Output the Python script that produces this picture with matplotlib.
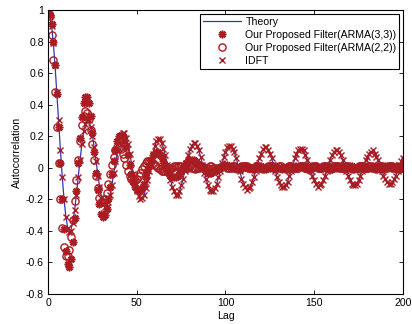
import numpy as np
import matplotlib
matplotlib.use("Agg")
import matplotlib.pyplot as plt

plt.rcParams["font.family"] = ["Liberation Sans", "DejaVu Sans"]

# lag axis
lags = np.arange(0, 201)

# theoretical autocorrelation (blue line)
theory = [
    1.000, 0.976, 0.904, 0.790, 0.643, 0.472, 0.291, 0.112, -0.054, -0.195,
    -0.304, -0.373, -0.401, -0.390, -0.343, -0.271, -0.170, -0.063, 0.044, 0.140,
    0.220, 0.273, 0.299, 0.295, 0.261, 0.205, 0.131, 0.048, -0.039, -0.117,
    -0.181, -0.228, -0.248, -0.245, -0.218, -0.170, -0.108, -0.039, 0.033, 0.103,
    0.159, 0.198, 0.217, 0.214, 0.191, 0.150, 0.095, 0.032, -0.032, -0.092,
    -0.142, -0.178, -0.195, -0.193, -0.173, -0.136, -0.086, -0.029, 0.029, 0.084,
    0.130, 0.162, 0.179, 0.177, 0.159, 0.125, 0.080, 0.027, -0.027, -0.078,
    -0.120, -0.150, -0.166, -0.165, -0.147, -0.116, -0.074, -0.025, 0.025, 0.073,
    0.113, 0.141, 0.155, 0.154, 0.138, 0.109, 0.070, 0.024, -0.024, -0.069,
    -0.106, -0.133, -0.147, -0.146, -0.131, -0.103, -0.066, -0.023, 0.022, 0.065,
    0.101, 0.126, 0.139, 0.139, 0.124, 0.098, 0.063, 0.021, -0.021, -0.062,
    -0.096, -0.120, -0.133, -0.132, -0.119, -0.094, -0.060, -0.021, 0.020, 0.059,
    0.092, 0.115, 0.127, 0.127, 0.114, 0.090, 0.058, 0.020, -0.020, -0.057,
    -0.088, -0.111, -0.122, -0.122, -0.110, -0.087, -0.055, -0.019, 0.019, 0.055,
    0.085, 0.107, 0.118, 0.118, 0.106, 0.084, 0.053, 0.018, -0.018, -0.053,
    -0.082, -0.103, -0.114, -0.114, -0.102, -0.081, -0.052, -0.018, 0.018, 0.051,
    0.080, 0.100, 0.110, 0.110, 0.099, 0.078, 0.050, 0.017, -0.017, -0.050,
    -0.077, -0.097, -0.107, -0.107, -0.096, -0.076, -0.049, -0.017, 0.017, 0.048,
    0.075, 0.094, 0.104, 0.104, 0.093, 0.074, 0.047, 0.016, -0.016, -0.047,
    -0.073, -0.092, -0.101, -0.101, -0.091, -0.072, -0.046, -0.016, 0.016, 0.046,
    0.071,
]

# proposed filter, ARMA(3,3)  (asterisks)
arma33 = [
    1.00, 0.97, 0.91, 0.80, 0.65, 0.47, 0.26, 0.03, -0.20, -0.39,
    -0.53, -0.61, -0.63, -0.58, -0.47, -0.32, -0.15, 0.03, 0.19, 0.32,
    0.41, 0.45, 0.45, 0.41, 0.33, 0.22, 0.10, -0.03, -0.14, -0.23,
    -0.29, -0.31, -0.30, -0.26, -0.20, -0.12, -0.04, 0.04, 0.11, 0.17,
    0.20, 0.21, 0.20, 0.17, 0.13, 0.08, 0.02, -0.04, -0.09, -0.12,
    -0.14, -0.15, -0.14, -0.13, -0.10, -0.06, -0.02, 0.01, 0.05, 0.08,
    0.09, 0.10, 0.10, 0.08, 0.07, 0.04, 0.02, -0.01, -0.03, -0.05,
    -0.06, -0.06, -0.06, -0.05, -0.04, -0.02, -0.01, 0.01, 0.03, 0.04,
    0.05, 0.05, 0.05, 0.04, 0.03, 0.02, 0.01, 0.00, -0.01, -0.02,
    -0.03, -0.03, -0.03, -0.02, -0.02, -0.01, 0.00, 0.00, 0.01, 0.02,
    0.02, 0.02, 0.01, 0.01, 0.00, 0.00, -0.01, 0.00, 0.00, 0.01,
    0.01, 0.01, 0.00, 0.00, 0.00, -0.01, 0.00, 0.01, 0.01, 0.01,
    0.01, 0.00, 0.00, -0.01, 0.00, 0.00, 0.01, 0.01, 0.01, 0.00,
    0.00, 0.00, -0.01, 0.00, 0.00, 0.01, 0.01, 0.00, 0.00, 0.00,
    0.00, 0.01, 0.01, 0.01, 0.00, 0.00, -0.01, 0.00, 0.00, 0.01,
    0.01, 0.01, 0.00, 0.00, 0.00, 0.00, 0.01, 0.01, 0.00, 0.00,
    -0.01, 0.00, 0.00, 0.01, 0.01, 0.01, 0.00, 0.00, 0.00, 0.00,
    0.01, 0.01, 0.00, 0.00, -0.01, 0.00, 0.01, 0.01, 0.01, 0.00,
    0.00, 0.00, 0.00, 0.01, 0.01, 0.00, 0.00, -0.01, 0.00, 0.00,
    0.01, 0.01, 0.01, 0.00, 0.00, 0.00, 0.01, 0.01, 0.00, 0.00,
    0.01,
]

# proposed filter, ARMA(2,2)  (circles)
arma22 = [
    1.00, 0.96, 0.84, 0.68, 0.48, 0.26, 0.03, -0.20, -0.38, -0.50,
    -0.56, -0.56, -0.52, -0.44, -0.33, -0.21, -0.08, 0.05, 0.17, 0.27,
    0.33, 0.36, 0.35, 0.31, 0.24, 0.15, 0.05, -0.05, -0.13, -0.19,
    -0.22, -0.22, -0.20, -0.16, -0.10, -0.04, 0.02, 0.07, 0.11, 0.13,
    0.13, 0.12, 0.09, 0.06, 0.02, -0.02, -0.05, -0.07, -0.08, -0.08,
    -0.07, -0.05, -0.03, -0.01, 0.01, 0.03, 0.04, 0.04, 0.04, 0.03,
    0.02, 0.01, 0.00, -0.01, -0.02, -0.02, -0.02, -0.02, -0.01, 0.00,
    0.00, 0.01, 0.01, 0.01, 0.01, 0.01, 0.00, 0.00, 0.00, 0.00,
    0.01, 0.00, 0.00, -0.01, 0.00, 0.00, 0.01, 0.01, 0.00, 0.00,
    0.00, 0.01, 0.01, 0.00, 0.00, -0.01, 0.00, 0.00, 0.01, 0.01,
    0.01, 0.00, 0.00, 0.00, 0.01, 0.01, 0.00, 0.00, -0.01, 0.00,
    0.01, 0.01, 0.01, 0.00, 0.00, 0.00, 0.00, 0.01, 0.01, 0.00,
    0.00, -0.01, 0.00, 0.00, 0.01, 0.01, 0.01, 0.00, 0.00, 0.00,
    0.01, 0.01, 0.00, 0.00, -0.01, 0.00, 0.01, 0.01, 0.00, 0.00,
    0.00, 0.00, 0.01, 0.01, 0.01, 0.00, 0.00, -0.01, 0.00, 0.00,
    0.01, 0.01, 0.00, 0.00, 0.00, 0.01, 0.01, 0.00, 0.00, -0.01,
    0.00, 0.01, 0.01, 0.01, 0.00, 0.00, 0.00, 0.00, 0.01, 0.01,
    0.00, 0.00, -0.01, 0.00, 0.00, 0.01, 0.01, 0.01, 0.00, 0.00,
    0.00, 0.01, 0.01, 0.00, 0.00, -0.01, 0.00, 0.01, 0.01, 0.00,
    0.00, 0.00, 0.01, 0.01, 0.01, 0.00, 0.00, 0.00, -0.01, 0.00,
    0.01,
]

# IDFT method (x markers)
idft = [
    1.00, 0.97, 0.90, 0.79, 0.65, 0.48, 0.30, 0.11, -0.06, -0.20,
    -0.31, -0.38, -0.41, -0.40, -0.35, -0.27, -0.17, -0.06, 0.05, 0.15,
    0.23, 0.28, 0.30, 0.30, 0.26, 0.20, 0.13, 0.04, -0.05, -0.12,
    -0.19, -0.23, -0.25, -0.25, -0.22, -0.17, -0.11, -0.03, 0.04, 0.11,
    0.16, 0.20, 0.22, 0.22, 0.19, 0.15, 0.09, 0.03, -0.04, -0.10,
    -0.15, -0.18, -0.20, -0.19, -0.17, -0.13, -0.08, -0.02, 0.03, 0.09,
    0.14, 0.17, 0.18, 0.18, 0.16, 0.12, 0.08, 0.02, -0.03, -0.08,
    -0.12, -0.15, -0.17, -0.17, -0.15, -0.11, -0.07, -0.02, 0.03, 0.08,
    0.12, 0.14, 0.16, 0.16, 0.14, 0.11, 0.07, 0.02, -0.03, -0.07,
    -0.11, -0.14, -0.15, -0.15, -0.13, -0.10, -0.06, -0.02, 0.03, 0.07,
    0.10, 0.13, 0.14, 0.14, 0.12, 0.10, 0.06, 0.02, -0.02, -0.07,
    -0.10, -0.12, -0.14, -0.13, -0.12, -0.09, -0.06, -0.02, 0.02, 0.06,
    0.09, 0.12, 0.13, 0.13, 0.11, 0.09, 0.06, 0.02, -0.02, -0.06,
    -0.09, -0.11, -0.12, -0.12, -0.11, -0.09, -0.05, -0.02, 0.02, 0.06,
    0.09, 0.11, 0.12, 0.12, 0.11, 0.08, 0.05, 0.02, -0.02, -0.05,
    -0.08, -0.10, -0.12, -0.11, -0.10, -0.08, -0.05, -0.02, 0.02, 0.05,
    0.08, 0.10, 0.11, 0.11, 0.10, 0.08, 0.05, 0.02, -0.02, -0.05,
    -0.08, -0.10, -0.11, -0.11, -0.10, -0.08, -0.05, -0.02, 0.02, 0.05,
    0.07, 0.09, 0.10, 0.11, 0.09, 0.07, 0.05, 0.02, -0.02, -0.05,
    -0.07, -0.09, -0.10, -0.10, -0.09, -0.07, -0.05, -0.02, 0.02, 0.04,
    0.06,
]

x_ticks = [0, 50, 100, 150, 200]
x_labels = ["0", "50", "100", "150", "200"]
y_ticks = [-0.8, -0.6, -0.4, -0.2, 0, 0.2, 0.4, 0.6, 0.8, 1]
y_labels = ["-0.8", "-0.6", "-0.4", "-0.2", "0", "0.2", "0.4", "0.6", "0.8", "1"]

red = "#a81c22"
blue = "#3434b4"
fs = 7.6

fig = plt.figure(figsize=(4.12, 3.24), dpi=100)
ax = fig.add_axes([48 / 412, 30 / 324, 355 / 412, 284 / 324])

ax.plot(lags, theory, color=blue, lw=0.9, label="Theory")
ax.plot(lags, arma33, ls="none", marker=(8, 2, 0), ms=5.5, mew=1.2,
        color=red, label="Our Proposed Filter(ARMA(3,3))")
ax.plot(lags, arma22, ls="none", marker="o", ms=5.2, mew=1.0,
        mfc="none", mec=red, label="Our Proposed Filter(ARMA(2,2))")
ax.plot(lags, idft, ls="none", marker="x", ms=4.0, mew=1.0,
        color=red, label="IDFT")

ax.set_xlim(0, 200)
ax.set_ylim(-0.8, 1)
ax.set_xticks(x_ticks)
ax.set_xticklabels(x_labels)
ax.set_yticks(y_ticks)
ax.set_yticklabels(y_labels)
ax.tick_params(direction="in", top=True, right=True, length=3,
               width=0.6, labelsize=fs, pad=3)
for s in ax.spines.values():
    s.set_linewidth(0.8)

ax.set_xlabel("Lag", fontsize=fs, labelpad=2)
ax.set_ylabel("Autocorrelation", fontsize=fs, labelpad=3)

leg = ax.legend(loc="upper right", bbox_to_anchor=(0.989, 0.986),
                fontsize=fs, numpoints=1, frameon=True, fancybox=False,
                edgecolor="black", framealpha=1, handlelength=3.6,
                borderpad=0.25, labelspacing=0.3, handletextpad=0.4,
                borderaxespad=0)
leg.get_frame().set_linewidth(0.8)

fig.savefig("out.png", dpi=100)
